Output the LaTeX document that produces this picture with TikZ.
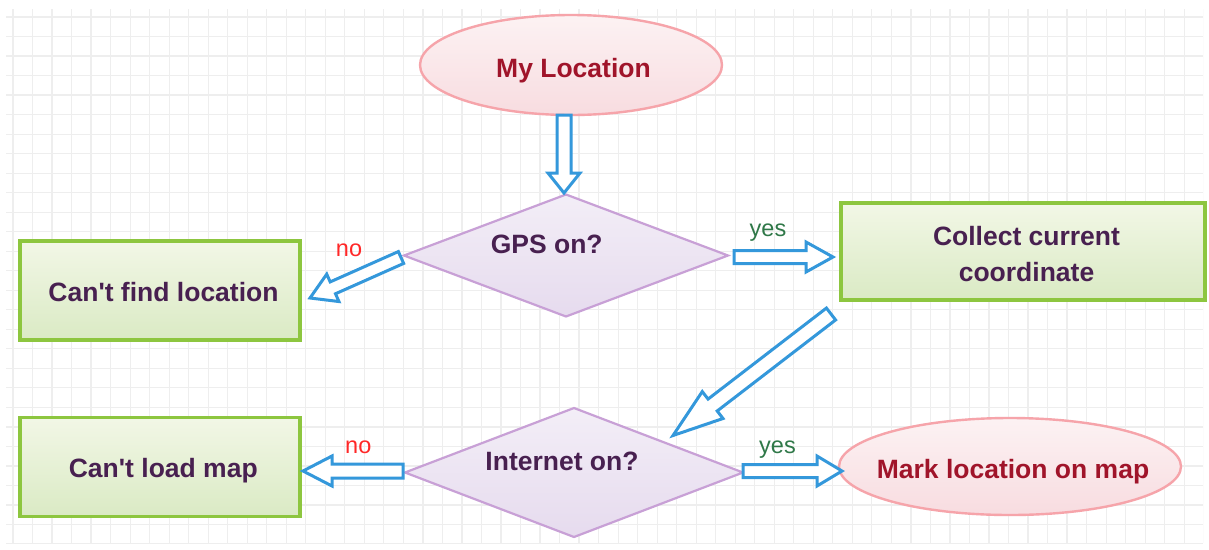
\documentclass[tikz,border=0pt]{standalone}
\usepackage{fontspec}
\setmainfont{Liberation Sans}[Ligatures=TeXOff]
\usetikzlibrary{shapes.geometric,calc}

\definecolor{gridgray}{RGB}{238,238,238}
\definecolor{pinkline}{RGB}{246,164,170}
\definecolor{pinktop}{RGB}{252,242,243}
\definecolor{pinkbot}{RGB}{248,220,224}
\definecolor{greenline}{RGB}{141,198,63}
\definecolor{greentop}{RGB}{242,247,230}
\definecolor{greenbot}{RGB}{218,234,196}
\definecolor{lilacline}{RGB}{200,160,214}
\definecolor{lilactop}{RGB}{243,238,247}
\definecolor{lilacbot}{RGB}{230,219,238}
\definecolor{arrowblue}{RGB}{52,152,219}
\definecolor{boxtext}{RGB}{72,32,80}
\definecolor{endtext}{RGB}{160,20,42}
\definecolor{nored}{RGB}{255,40,40}
\definecolor{yesgreen}{RGB}{47,120,72}

% outlined block arrow: start, tip, shaft half width, head half width, head length
\newcommand\blockarrow[5]{%
  \coordinate (bah) at ($(#2)!#5pt!(#1)$);
  \draw[flowarrow] ($(#1)!#3pt!90:(#2)$) -- ($(bah)!#3pt!90:(#2)$)
    -- ($(bah)!#4pt!90:(#2)$) -- (#2) -- ($(bah)!#4pt!-90:(#2)$)
    -- ($(bah)!#3pt!-90:(#2)$) -- ($(#1)!#3pt!-90:(#2)$) -- cycle;}

\tikzset{
  terminal/.style={ellipse, draw=pinkline, line width=2.4pt,
    top color=pinktop, bottom color=pinkbot, inner sep=0pt, outer sep=0pt},
  process/.style={rectangle, draw=greenline, line width=3.2pt,
    top color=greentop, bottom color=greenbot, inner sep=0pt, outer sep=0pt},
  decision/.style={diamond, draw=lilacline, line width=2.2pt,
    top color=lilactop, bottom color=lilacbot, inner sep=0pt, outer sep=0pt},
  flowarrow/.style={draw=arrowblue, fill=white, line width=3pt, line join=miter},
  boxtxt/.style={font=\bfseries\fontsize{26.5}{36.7}\selectfont, text=boxtext,
    inner sep=0pt, align=center},
  endtxt/.style={boxtxt, text=endtext},
  notxt/.style={font=\fontsize{23.5}{28}\selectfont, text=nored, inner sep=0pt, anchor=base},
  yestxt/.style={font=\fontsize{23.5}{28}\selectfont, text=yesgreen, inner sep=0pt, anchor=base},
}

\begin{document}
\begin{tikzpicture}[x=1pt, y=-1pt]
  \useasboundingbox (0,0) rectangle (1209,549);
  \fill[white] (0,0) rectangle (1209,549);

  % background grid
  \begin{scope}
    \clip (6,9) rectangle (1203,543);
    \foreach \i in {0,...,61} {
      \draw[gridgray, line width=1.2pt] ({13+19.52*\i},9) -- ({13+19.52*\i},543);
    }
    \foreach \j in {0,...,27} {
      \draw[gridgray, line width=1.2pt] (6,{17+19.52*\j}) -- (1203,{17+19.52*\j});
    }
  \end{scope}

  % shapes
  \node[terminal, minimum width=302pt, minimum height=100pt] (myloc) at (571,65) {};
  \node[decision, minimum width=324pt, minimum height=122pt] (gps) at (566,255.5) {};
  \node[process, minimum width=280pt, minimum height=99pt] (nofind) at (160,290.5) {};
  \node[process, minimum width=364pt, minimum height=97pt] (collect) at (1023,251.5) {};
  \node[decision, minimum width=338pt, minimum height=129pt] (inet) at (574,472.5) {};
  \node[process, minimum width=280pt, minimum height=99.5pt] (noload) at (160,467) {};
  \node[terminal, minimum width=342pt, minimum height=97pt] (mark) at (1010,466.5) {};

  % texts
  \node[endtxt, anchor=base] (myloct) at (573.5,77) {My Location};
  \node[boxtxt, anchor=base] (gpst) at (546.7,253.3) {GPS on?};
  \node[boxtxt, anchor=base] (nofindt) at (163.5,301.7) {Can't find location};
  \node[boxtxt] (collectt) at (1026.5,253.9) {Collect current\\coordinate};
  \node[boxtxt, anchor=base] (inett) at (562,470.7) {Internet on?};
  \node[boxtxt, anchor=base] (noloadt) at (163.3,477.3) {Can't load map};
  \node[endtxt, anchor=base] (markt) at (1013,478) {Mark location on map};

  % arrow end points
  \coordinate (a1s) at ($(gps.north |- myloc.south)+(-2,0)$);
  \coordinate (a1e) at ($(gps.north)+(-2,-1.5)$);
  \coordinate (a2s) at ($(gps.west)+(-3,2)$);
  \coordinate (a2e) at ($(nofind.east)+(10,7.5)$);
  \coordinate (a3s) at ($(gps.east)+(6,1.5)$);
  \coordinate (a3e) at ($(collect.west)+(-8,5.5)$);
  \coordinate (a4s) at ($(collect.south west)+(-10,14)$);
  \coordinate (a4e) at ($(inet.east)+(-70,-37)$);
  \coordinate (a5s) at ($(inet.west)+(-2,-1.5)$);
  \coordinate (a5e) at ($(noload.east)+(3,4)$);
  \coordinate (a6s) at ($(inet.east)+(0,-1.5)$);
  \coordinate (a6e) at ($(mark.west)+(3,4.5)$);

  % connectors
  \blockarrow{a1s}{a1e}{7}{16}{20}
  \blockarrow{a2s}{a2e}{6.5}{15}{25}
  \blockarrow{a3s}{a3e}{6.5}{15}{27}
  \blockarrow{a4s}{a4e}{7.5}{17}{50}
  \blockarrow{a5s}{a5e}{7}{15}{29}
  \blockarrow{a6s}{a6e}{6.5}{15}{25}

  % branch labels
  \node[notxt] (no1) at (349,256) {no};
  \node[yestxt] (yes1) at (768,236.7) {yes};
  \node[notxt] (no2) at (358.3,453.3) {no};
  \node[yestxt] (yes2) at (777.5,453.3) {yes};
\end{tikzpicture}
\end{document}
